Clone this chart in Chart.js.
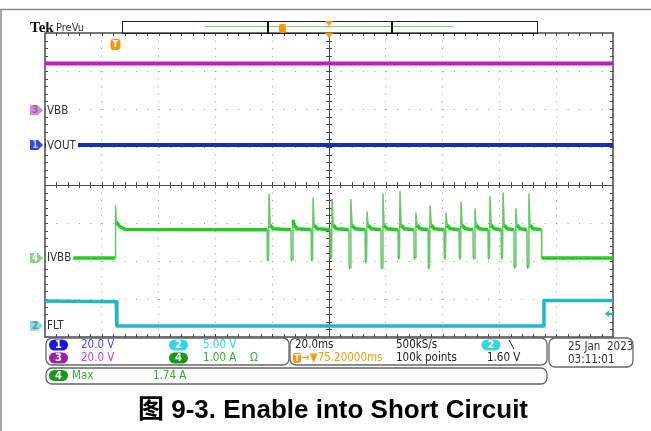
<!DOCTYPE html>
<html lang="en">
<head>
<meta charset="UTF-8">
<title>Enable into Short Circuit</title>
<script src="https://cdn.jsdelivr.net/npm/chart.js"></script>
<style>
  body { margin: 0; background: #fff; }
  canvas { display: block; }
</style>
</head>
<body>
<canvas id="scope" width="651" height="431"></canvas>
<script>
// horizontal: 20 ms/div, trigger at 0 ms, screen centre at +75.2 ms
const timeStartMs = -24.8;
const msPerDiv = 20;
const xDivs = 10;
const yDivs = 8;

// channel settings, ch1..ch4
const chNames = ['VOUT', 'FLT', 'VBB', 'IVBB'];
const chScale = [20.0, 5.00, 20.0, 1.00];
const chUnit = ['V', 'V', 'V', 'A'];
const chGroundDiv = [5.05, 0.29, 5.97, 2.08];

// ch1 VOUT (shorted)
const voutMs = [-24.8, 175.2];
const voutV = [0, 0];
// ch3 VBB
const vbbMs = [-24.8, 175.2];
const vbbV = [24.6, 24.6];
// ch2 FLT
const fltMs = [-24.8, 0.3, 0.5, 150.7, 150.9, 175.2];
const fltV = [3.3, 3.2, 0, 0, 3.35, 3.35];
// ch4 IVBB: enable step, retry pulses, shutdown
const ivbbOnA = 0.74;
const ivbbStepPeakA = 1.37;
const ivbbOffMs = 150.1;
const pulseMs = [54.1, 62.5, 69.6, 76.3, 82.9, 88.6, 94.2, 100.2, 105.8, 110.8, 116.4, 121.7, 126.6, 131.9, 136.5, 141.0, 145.6];
const pulseDipA = [-0.05, -0.05, -0.05, 0, -0.26, -0.1, -0.26, 0, 0, -0.26, 0, 0, 0, 0, 0, -0.24, -0.24];
const pulsePeakA = [1.68, 1.0, 1.58, 1.53, 1.53, 1.21, 1.68, 1.74, 1.18, 1.37, 1.18, 1.47, 1.29, 1.61, 1.71, 1.29, 1.68];

const chColor = ['#1c2db4', '#22b6c6', '#c21bc2', '#22cc22'];
const scopeFont = '"DejaVu Sans Condensed", "Liberation Sans Narrow", "DejaVu Sans", sans-serif';

function toDiv(ch, v) { return chGroundDiv[ch] + v / chScale[ch]; }
function points(ch, ms, vals) { return ms.map((t, i) => ({ x: t, y: toDiv(ch, vals[i]) })); }

// ivbb table
const ivbbMs = [-24.8, -0.1, 0.05, 0.3, 1.6, 3.5];
const ivbbA = [0, 0, ivbbStepPeakA, 0.95, 0.82, 0.75];
pulseMs.forEach((t, i) => {
  ivbbMs.push(t - 0.7, t - 0.6, t - 0.2, t, t + 0.4, t + 1.5);
  ivbbA.push(ivbbOnA, pulseDipA[i], pulseDipA[i], pulsePeakA[i], 0.86, 0.77);
});
ivbbMs.push(ivbbOffMs - 0.1, ivbbOffMs, 175.2);
ivbbA.push(ivbbOnA, 0, 0);

function roundBox(ctx, x, y, w, h, r) {
  ctx.beginPath();
  ctx.moveTo(x + r, y);
  ctx.arcTo(x + w, y, x + w, y + h, r);
  ctx.arcTo(x + w, y + h, x, y + h, r);
  ctx.arcTo(x, y + h, x, y, r);
  ctx.arcTo(x, y, x + w, y, r);
  ctx.closePath();
}

function badge(ctx, cx, cy, label, fill) {
  ctx.fillStyle = fill;
  roundBox(ctx, cx - 9.5, cy - 5.5, 19, 11, 5.5);
  ctx.fill();
  ctx.fillStyle = '#fff';
  ctx.font = 'bold 11px ' + scopeFont;
  ctx.textAlign = 'center';
  ctx.fillText(label, cx, cy + 0.5);
  ctx.textAlign = 'left';
}

function text(ctx, s, x, y, color, font) {
  ctx.fillStyle = color;
  ctx.font = font || ('11.5px ' + scopeFont);
  ctx.fillText(s, x, y);
}

const scopePlugin = {
  id: 'scope',
  beforeDatasetsDraw(chart) {
    const { ctx, chartArea: a, scales: { x, y } } = chart;
    const cx = x.getPixelForValue(timeStartMs + msPerDiv * xDivs / 2);
    const cy = y.getPixelForValue(yDivs / 2);
    const sx = (a.right - a.left) / xDivs / 5;
    const sy = (a.bottom - a.top) / yDivs / 5;
    ctx.save();
    ctx.strokeStyle = '#4a4a4a';
    ctx.lineWidth = 1;
    ctx.beginPath();
    for (let i = 1; i < xDivs * 5; i++) {
      const px = Math.round(a.left + i * sx) + 0.5;
      ctx.moveTo(px, cy - 3); ctx.lineTo(px, cy + 3);
      ctx.moveTo(px, a.top); ctx.lineTo(px, a.top + 3);
      ctx.moveTo(px, a.bottom); ctx.lineTo(px, a.bottom - 3);
    }
    for (let i = 1; i < yDivs * 5; i++) {
      const py = Math.round(a.top + i * sy) + 0.5;
      ctx.moveTo(cx - 3, py); ctx.lineTo(cx + 3, py);
      ctx.moveTo(a.left, py); ctx.lineTo(a.left + 3, py);
      ctx.moveTo(a.right, py); ctx.lineTo(a.right - 3, py);
    }
    ctx.stroke();
    ctx.lineWidth = 1.5;
    ctx.strokeRect(a.left, a.top, a.right - a.left, a.bottom - a.top);
    ctx.restore();
  },
  afterDatasetsDraw(chart) {
    const { ctx, chartArea: a, scales: { x, y } } = chart;
    ctx.save();
    ctx.textBaseline = 'middle';

    // page frame
    ctx.strokeStyle = '#8a8a8a';
    ctx.lineWidth = 1.5;
    ctx.beginPath();
    ctx.moveTo(0, 9.5); ctx.lineTo(651, 9.5);
    ctx.moveTo(1, 9.5); ctx.lineTo(1, 431);
    ctx.stroke();

    // header
    ctx.textBaseline = 'alphabetic';
    text(ctx, 'Tek', 30, 32, '#111', 'bold 15px "Liberation Serif", serif');
    text(ctx, 'PreVu', 56, 31, '#333', '11px ' + scopeFont);
    ctx.textBaseline = 'middle';
    ctx.strokeStyle = '#222';
    ctx.lineWidth = 1;
    ctx.strokeRect(122.5, 21.5, 415, 12);
    ctx.strokeStyle = '#80d080';
    ctx.beginPath(); ctx.moveTo(205, 26.5); ctx.lineTo(454, 26.5); ctx.stroke();
    ctx.strokeStyle = '#111';
    ctx.lineWidth = 2;
    ctx.beginPath();
    ctx.moveTo(268, 21); ctx.lineTo(268, 34);
    ctx.moveTo(392, 21); ctx.lineTo(392, 34);
    ctx.stroke();
    ctx.fillStyle = '#f39a12';
    roundBox(ctx, 279, 24, 7, 9, 2); ctx.fill();
    const cx = x.getPixelForValue(timeStartMs + msPerDiv * xDivs / 2);
    ctx.beginPath(); ctx.moveTo(cx - 4, 21); ctx.lineTo(cx + 4, 21); ctx.lineTo(cx, 26); ctx.fill();
    ctx.beginPath(); ctx.moveTo(cx - 4, a.top); ctx.lineTo(cx + 4, a.top); ctx.lineTo(cx, a.top + 5); ctx.fill();

    // trigger marker in the graticule
    const tx = x.getPixelForValue(0);
    ctx.fillStyle = '#f39a12';
    roundBox(ctx, tx - 5, a.top + 6, 10, 11, 3); ctx.fill();
    text(ctx, 'T', tx - 3, a.top + 11.5, '#fff', 'bold 9px ' + scopeFont);

    // channel ground markers with labels (labels mask the trace)
    const markFill = ['#3548d8', '#86dfe6', '#d78ad7', '#8fd08f'];
    const markText = ['#b8c0ff', '#5d8f95', '#8d6a8d', '#ffffff'];
    [2, 0, 3, 1].forEach(ch => {
      const py = y.getPixelForValue(chGroundDiv[ch]);
      ctx.fillStyle = markFill[ch];
      ctx.beginPath();
      ctx.moveTo(30, py - 5); ctx.lineTo(38, py - 5); ctx.lineTo(43, py);
      ctx.lineTo(38, py + 5); ctx.lineTo(30, py + 5); ctx.closePath(); ctx.fill();
      text(ctx, String(ch + 1), 32, py + 0.5, markText[ch], 'bold 10px ' + scopeFont);
      ctx.font = '11.5px ' + scopeFont;
      const w = ctx.measureText(chNames[ch]).width;
      ctx.fillStyle = '#fff';
      ctx.fillRect(46, py - 6, w + 3, 12);
      text(ctx, chNames[ch], 47, py + 0.5, '#333', '11.5px ' + scopeFont);
    });

    // ch2 trigger level arrow (1.60 V)
    const ly = y.getPixelForValue(toDiv(1, 1.60));
    ctx.fillStyle = chColor[1];
    ctx.strokeStyle = chColor[1];
    ctx.beginPath(); ctx.moveTo(605, ly); ctx.lineTo(609, ly - 3.5); ctx.lineTo(609, ly + 3.5); ctx.fill();
    ctx.beginPath(); ctx.moveTo(609, ly); ctx.lineTo(613, ly); ctx.stroke();

    // readout boxes
    ctx.strokeStyle = '#666';
    ctx.lineWidth = 1.3;
    roundBox(ctx, 46, 338, 243, 27, 6); ctx.stroke();
    roundBox(ctx, 290, 338, 257, 27, 6); ctx.stroke();
    roundBox(ctx, 549, 338, 84, 29, 6); ctx.stroke();
    roundBox(ctx, 46, 368, 501, 16, 6); ctx.stroke();

    badge(ctx, 58.5, 345, '1', '#1717e0');
    text(ctx, chScale[0].toFixed(1) + ' ' + chUnit[0], 81, 345.5, '#4b4bff');
    badge(ctx, 178.5, 345, '2', '#33d6e6');
    text(ctx, chScale[1].toFixed(2) + ' ' + chUnit[1], 203, 345.5, '#36d2e2');
    badge(ctx, 58.5, 358, '3', '#a11fa1');
    text(ctx, chScale[2].toFixed(1) + ' ' + chUnit[2], 81, 358.5, '#c043c0');
    badge(ctx, 178.5, 358, '4', '#1a981a');
    text(ctx, chScale[3].toFixed(2) + ' ' + chUnit[3], 203, 358.5, '#33b033');
    text(ctx, 'Ω', 250, 358.5, '#33b033');

    badge(ctx, 58.5, 375.5, '4', '#1a981a');
    text(ctx, 'Max', 72, 376, '#33b033');
    text(ctx, Math.max(...pulsePeakA).toFixed(2) + ' A', 153, 376, '#33b033');

    text(ctx, msPerDiv.toFixed(1) + 'ms', 295, 345.5, '#222');
    text(ctx, '500kS/s', 396, 345.5, '#222');
    badge(ctx, 491, 345, '2', '#33d6e6');
    ctx.strokeStyle = '#222'; ctx.lineWidth = 1;
    ctx.beginPath(); ctx.moveTo(509, 340); ctx.lineTo(514, 349); ctx.stroke();
    ctx.fillStyle = '#f39a12';
    roundBox(ctx, 293, 353, 8, 10, 2); ctx.fill();
    text(ctx, 'T', 294.5, 358.5, '#fff', 'bold 9px ' + scopeFont);
    text(ctx, '→▼' + (timeStartMs + msPerDiv * xDivs / 2).toFixed(5) + 'ms', 301, 358.5, '#f39a12');
    text(ctx, '100k points', 396, 358.5, '#222');
    text(ctx, '1.60 V', 487, 358.5, '#222');

    text(ctx, '25 Jan  2023', 568, 347.5, '#333');
    text(ctx, '03:11:01', 568, 360.5, '#333');

    // figure caption
    ctx.textBaseline = 'alphabetic';
    ctx.textAlign = 'center';
    text(ctx, '图 9-3. Enable into Short Circuit', 333, 418, '#000', 'bold 26px "Liberation Sans", Arial, "Noto Sans CJK SC", sans-serif');
    ctx.restore();
  }
};

const steep = c => Math.abs(c.p1.y - c.p0.y) > 12 && Math.abs(c.p1.x - c.p0.x) < 3;

new Chart(document.getElementById('scope'), {
  type: 'line',
  data: {
    datasets: [
      { label: 'VBB', data: points(2, vbbMs, vbbV), borderColor: chColor[2], borderWidth: 4 },
      { label: 'VOUT', data: points(0, voutMs, voutV), borderColor: chColor[0], borderWidth: 4 },
      {
        label: 'IVBB', data: points(3, ivbbMs, ivbbA), borderColor: chColor[3], borderWidth: 3.5,
        segment: {
          borderColor: c => steep(c) ? '#6cc46c' : undefined,
          borderWidth: c => steep(c) ? 1.5 : undefined
        }
      },
      { label: 'FLT', data: points(1, fltMs, fltV), borderColor: chColor[1], borderWidth: 3.5 }
    ]
  },
  options: {
    responsive: false,
    animation: false,
    layout: { padding: { left: 45, right: 38, top: 33, bottom: 94 } },
    elements: { point: { radius: 0 }, line: { tension: 0, borderJoinStyle: 'round' } },
    plugins: { legend: { display: false }, tooltip: { enabled: false } },
    scales: {
      x: {
        type: 'linear',
        min: timeStartMs,
        max: timeStartMs + msPerDiv * xDivs,
        afterBuildTicks: s => { s.ticks = Array.from({ length: xDivs + 1 }, (_, i) => ({ value: timeStartMs + i * msPerDiv })); },
        ticks: { display: false },
        grid: { drawTicks: false, color: c => c.index === xDivs / 2 ? '#4a4a4a' : '#9a9a9a', lineWidth: 1 },
        border: { display: false, dash: c => c.index === xDivs / 2 ? [] : [1, 6.6] }
      },
      y: {
        type: 'linear',
        min: 0,
        max: yDivs,
        afterBuildTicks: s => { s.ticks = Array.from({ length: yDivs + 1 }, (_, i) => ({ value: i })); },
        ticks: { display: false },
        grid: { drawTicks: false, color: c => c.index === yDivs / 2 ? '#4a4a4a' : '#9a9a9a', lineWidth: 1 },
        border: { display: false, dash: c => c.index === yDivs / 2 ? [] : [1, 10.36] }
      }
    }
  },
  plugins: [scopePlugin]
});
</script>
</body>
</html>
